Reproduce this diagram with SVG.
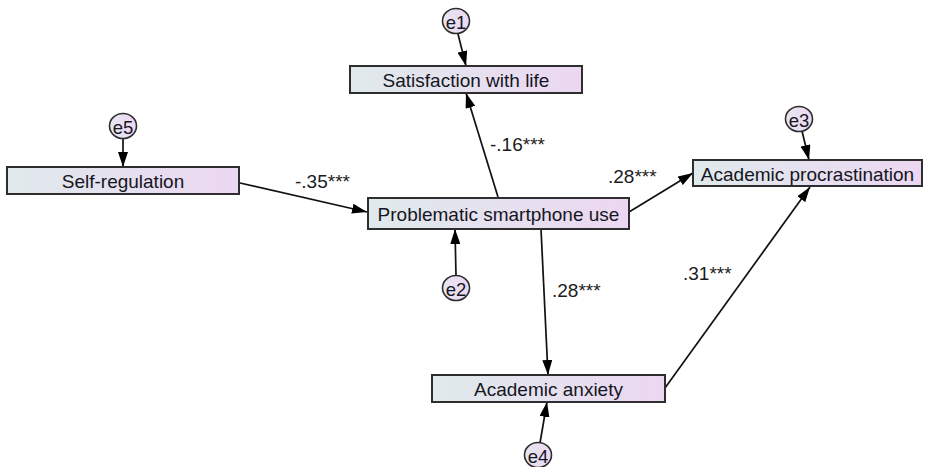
<svg xmlns="http://www.w3.org/2000/svg" width="928" height="467" viewBox="0 0 928 467">
<style>
.box{stroke:#2e2e2e;stroke-width:2;fill:url(#g)}
.err{stroke:#2e2e2e;stroke-width:1.6;fill:url(#ge)}
.lbl{font-family:"Liberation Sans",Arial,sans-serif;font-size:19px;fill:#161622;text-anchor:middle;dominant-baseline:central}
.coef{font-family:"Liberation Sans",Arial,sans-serif;font-size:19px;fill:#1c1c1c}
.elbl{font-family:"Liberation Sans",Arial,sans-serif;font-size:18.5px;fill:#161622;text-anchor:middle;dominant-baseline:central}
.c{stroke:#111;stroke-width:1.7;fill:none;marker-end:url(#ah)}
</style>
<defs>
<linearGradient id="g" x1="0" y1="0" x2="1" y2="0">
<stop offset="0" stop-color="#dfeaec"/>
<stop offset="1" stop-color="#ecd7f2"/>
</linearGradient>
<linearGradient id="ge" x1="0" y1="0" x2="1" y2="0">
<stop offset="0" stop-color="#e6e6f0"/>
<stop offset="1" stop-color="#edd8f2"/>
</linearGradient>
<marker id="ah" viewBox="0 0 15 10" refX="15" refY="5" markerWidth="15" markerHeight="10" markerUnits="userSpaceOnUse" orient="auto">
<path d="M0,0 L15,5 L0,10 z" fill="#000"/>
</marker>
</defs>
<rect width="928" height="467" fill="#fff"/>
<g id="connectors">
<line class="c" x1="240" y1="183" x2="367" y2="212"/>
<line class="c" x1="498" y1="197" x2="466" y2="93"/>
<line class="c" x1="629" y1="212" x2="693" y2="173"/>
<line class="c" x1="541" y1="229" x2="548" y2="375"/>
<line class="c" x1="665" y1="388" x2="810" y2="187"/>
<line class="c" x1="458" y1="34" x2="466" y2="66"/>
<line class="c" x1="123" y1="138" x2="123" y2="167"/>
<line class="c" x1="456" y1="276" x2="455" y2="229"/>
<line class="c" x1="802" y1="131" x2="809" y2="160"/>
<line class="c" x1="540" y1="443" x2="547" y2="402"/>
<text class="coef" x="295" y="188">-.35***</text>
<text class="coef" x="490" y="151">-.16***</text>
<text class="coef" x="608" y="183">.28***</text>
<text class="coef" x="552" y="297">.28***</text>
<text class="coef" x="683" y="280">.31***</text>
</g>
<g id="sat"><rect class="box" x="350" y="66" width="232" height="27"/><text class="lbl" x="466" y="80.5">Satisfaction with life</text></g>
<g id="selfreg"><rect class="box" x="7" y="167" width="232" height="27"/><text class="lbl" x="123" y="181.5">Self-regulation</text></g>
<g id="psu"><rect class="box" x="368" y="198" width="261" height="31"/><text class="lbl" x="498.5" y="214.5">Problematic smartphone use</text></g>
<g id="ap"><rect class="box" x="693" y="160" width="229" height="26"/><text class="lbl" x="807.5" y="174">Academic procrastination</text></g>
<g id="anx"><rect class="box" x="432" y="375" width="233" height="27"/><text class="lbl" x="548.5" y="389.5">Academic anxiety</text></g>
<g id="e1"><ellipse class="err" cx="456" cy="21" rx="13.5" ry="12.5"/><text class="elbl" x="456" y="22">e1</text></g>
<g id="e5"><ellipse class="err" cx="123" cy="126" rx="13.5" ry="12.5"/><text class="elbl" x="123" y="127">e5</text></g>
<g id="e2"><ellipse class="err" cx="456" cy="288" rx="13.5" ry="12.5"/><text class="elbl" x="456" y="289">e2</text></g>
<g id="e3"><ellipse class="err" cx="799" cy="119" rx="13.5" ry="12.5"/><text class="elbl" x="799" y="120">e3</text></g>
<g id="e4"><ellipse class="err" cx="538" cy="455" rx="13.5" ry="12.5"/><text class="elbl" x="538" y="456">e4</text></g>
</svg>
